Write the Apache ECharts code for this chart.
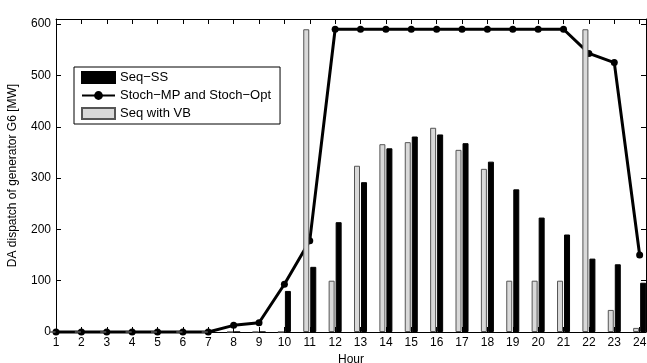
<!DOCTYPE html>
<html>
<head>
<meta charset="utf-8">
<script src="https://cdn.jsdelivr.net/npm/echarts@6/dist/echarts.min.js"></script>
<style>
  html, body { margin: 0; padding: 0; background: #fff; }
  #chart { width: 647px; height: 363px; }
</style>
</head>
<body>
<div id="chart"></div>
<script>
const hours = [1, 2, 3, 4, 5, 6, 7, 8, 9, 10, 11, 12, 13, 14, 15, 16, 17, 18, 19, 20, 21, 22, 23, 24]
// Seq with VB (light grey bars)
const seqVB = [0, 0, 0, 0, 0, 0, 0, 0, 0, 0, 590, 100, 324, 366, 370, 398, 355, 318, 100, 100, 100, 590, 43, 8]
// Seq-SS (black bars)
const seqSS = [0, 0, 0, 0, 0, 0, 0, 0, 0, 80, 127, 214, 292, 358, 381, 385, 368, 332, 278, 223, 190, 143, 132, 96]
// Stoch-MP and Stoch-Opt (line)
const stoch = [0, 0, 0, 0, 0, 0, 0, 13, 18, 93, 178, 590, 590, 590, 590, 590, 590, 590, 590, 590, 590, 543, 525, 150]

const NAME_SS = 'Seq\u2212SS'
const NAME_ST = 'Stoch\u2212MP and Stoch\u2212Opt'
const NAME_VB = 'Seq with VB'

const font = '"Liberation Sans", Arial, Helvetica, sans-serif'
const pair = (arr) => hours.map((h, i) => [h, arr[i]])

const chart = echarts.init(document.getElementById('chart'))

const xBase = {
  type: 'value', min: 1, max: 24.25, interval: 1,
  axisLine: { show: true, onZero: false, lineStyle: { color: '#000', width: 1 } },
  axisTick: { show: true, inside: true, length: 5, lineStyle: { color: '#000' } },
  splitLine: { show: false },
}
const yBase = {
  type: 'value', min: 0, max: 610, interval: 100,
  axisLine: { show: true, onZero: false, lineStyle: { color: '#000', width: 1 } },
  axisTick: { show: true, inside: true, length: 5, lineStyle: { color: '#000' } },
  splitLine: { show: false },
}

chart.setOption({
  animation: false,
  backgroundColor: '#fff',
  textStyle: { fontFamily: font },
  grid: { left: 56, right: 1, top: 19, bottom: 31, containLabel: false, outerBoundsMode: 'none' },
  legend: {
    orient: 'vertical', left: 74, top: 67,
    data: [
      { name: NAME_SS, icon: 'rect' },
      { name: NAME_ST },
      { name: NAME_VB, icon: 'rect' },
    ],
    padding: [4, 9, 4, 7], itemGap: 5, itemWidth: 33, itemHeight: 11,
    backgroundColor: '#fff', borderColor: '#000', borderWidth: 1, borderRadius: 0,
    textStyle: { fontSize: 13, color: '#000', fontFamily: font },
  },
  xAxis: [
    {
      ...xBase, position: 'bottom',
      name: 'Hour', nameLocation: 'middle', nameGap: 13,
      nameTextStyle: { fontSize: 12, color: '#000', fontFamily: font },
      axisLabel: { fontSize: 12, color: '#000', margin: 5, showMaxLabel: false, fontFamily: font },
    },
    { ...xBase, position: 'top', axisLabel: { show: false } },
  ],
  yAxis: [
    {
      ...yBase, position: 'left',
      name: 'DA dispatch of generator G6 [MW]', nameLocation: 'middle', nameGap: 37,
      nameTextStyle: { fontSize: 12, color: '#000', fontFamily: font },
      axisLabel: { fontSize: 12, color: '#000', margin: 5, showMaxLabel: false, fontFamily: font },
    },
    { ...yBase, position: 'right', axisLabel: { show: false } },
  ],
  series: [
    {
      name: NAME_VB, type: 'bar', data: pair(seqVB), z: 3,
      barWidth: 6, barGap: '17%',
      itemStyle: { color: '#d9d9d9', borderColor: '#555', borderWidth: 1 },
    },
    {
      name: NAME_SS, type: 'bar', data: pair(seqSS), z: 2,
      barWidth: 6, barGap: '17%',
      itemStyle: { color: '#000', borderColor: '#000', borderWidth: 1 },
    },
    {
      name: NAME_ST, type: 'line', data: pair(stoch), z: 2, clip: false,
      symbol: 'circle', symbolSize: 7, showAllSymbol: true,
      lineStyle: { color: '#000', width: 3 },
      itemStyle: { color: '#000' },
    },
  ],
})
</script>
</body>
</html>
